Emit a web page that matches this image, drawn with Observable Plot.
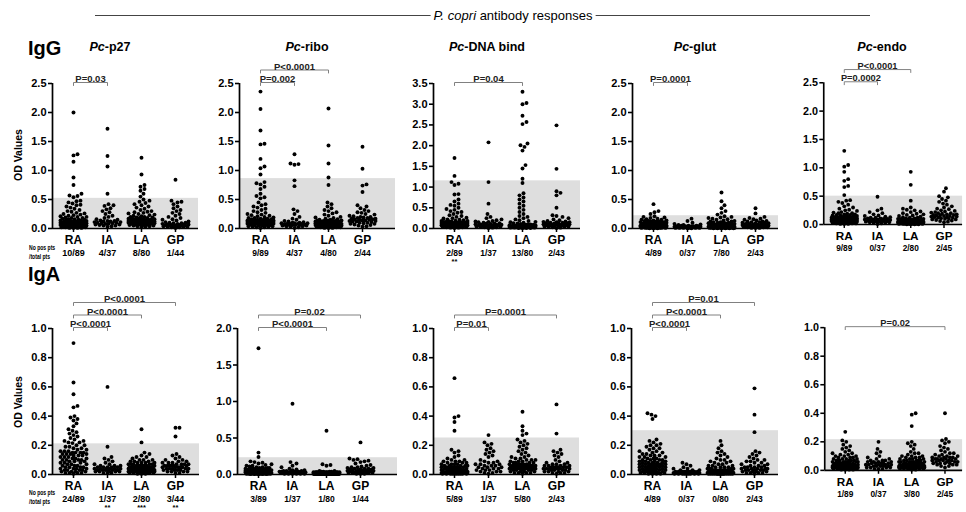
<!DOCTYPE html>
<html><head><meta charset="utf-8">
<script src="https://cdn.jsdelivr.net/npm/d3@7"></script>
<script src="https://cdn.jsdelivr.net/npm/@observablehq/plot@0.6"></script>
<style>
body{margin:0;background:#fff;overflow:hidden;}
#root{position:relative;width:966px;height:512px;overflow:hidden;font-family:"Liberation Sans",Arial,sans-serif;color:#000;}
.t{position:absolute;white-space:nowrap;line-height:1;}
.p{position:absolute;}
</style></head><body><div id="root"></div>
<script>
// ---------- categories & labels ----------
const groups = ["RA","IA","LA","GP"];
const antigens = ["p27","ribo","DNA bind","glut","endo"];
const isotypes = ["IgG","IgA"];
const countsG = [["10/89","4/37","8/80","1/44"],["9/89","4/37","4/80","2/44"],["2/89","1/37","13/80","2/43"],["4/89","0/37","7/80","2/43"],["9/89","0/37","2/80","2/45"]];
const countsA = [["24/89","1/37","2/80","3/44"],["3/89","1/37","1/80","1/44"],["5/89","1/37","5/80","2/43"],["4/89","0/37","0/80","2/43"],["1/89","0/37","3/80","2/45"]];
const starsG = [["","","",""],["","","",""],["**","","",""],["","","",""],["","","",""]];
const starsA = [["","**","***","**"],["","","",""],["","","",""],["","","",""],["","","",""]];
const cutG = [0.52, 0.86, 1.15, 0.22, 0.50];
const cutA = [0.21, 0.23, 0.25, 0.30, 0.215];
const yMaxG = [2.5, 2.5, 3.5, 2.5, 2.5];
const yMaxA = [1.0, 2.0, 1.0, 1.0, 1.0];
const yTicksG = [[0,0.5,1,1.5,2,2.5],[0,0.5,1,1.5,2,2.5],[0,0.5,1,1.5,2,2.5,3,3.5],[0,0.5,1,1.5,2,2.5],[0,0.5,1,1.5,2,2.5]];
const yTicksA = [[0,0.2,0.4,0.6,0.8,1],[0,0.5,1,1.5,2],[0,0.2,0.4,0.6,0.8,1],[0,0.2,0.4,0.6,0.8,1],[0,0.2,0.4,0.6,0.8,1]];
// [from, to, label, level]
const bracketsG = [
  [["RA","IA","P=0.03",0]],
  [["RA","IA","P=0.002",0],["RA","LA","P<0.0001",1]],
  [["RA","LA","P=0.04",0]],
  [["RA","IA","P=0.0001",0]],
  [["RA","IA","P=0.0002",0],["RA","LA","P<0.0001",1]]
];
const bracketsA = [
  [["RA","IA","P<0.0001",0],["RA","LA","P<0.0001",1],["RA","GP","P<0.0001",2]],
  [["RA","LA","P<0.0001",0],["RA","GP","P=0.02",1]],
  [["RA","IA","P=0.01",0],["RA","GP","P=0.0001",1]],
  [["RA","IA","P<0.0001",0],["RA","LA","P<0.0001",1],["RA","GP","P=0.01",2]],
  [["RA","GP","P=0.02",0]]
];

// ---------- IgG values ----------
const G_p27_RA=[2.0,1.28,1.26,1.15,.88,.75,.6,.57,.56,.54,.48,.47,.45,.43,.41,.4,.38,.36,.34,.32,.3,.29,.27,.26,.25,.24,.23,.22,.21,.2,.2,.19,.18,.18,.17,.16,.16,.15,.15,.14,.14,.14,.13,.13,.13,.12,.12,.12,.11,.11,.11,.1,.1,.1,.1,.09,.09,.09,.09,.08,.08,.08,.08,.07,.07,.07,.07,.06,.06,.06,.06,.05,.05,.05,.05,.04,.04,.04,.03,.03,.03,.03,.02,.02,.02,.01,.01,.01,.01];
const G_p27_IA=[1.72,1.25,1.07,.6,.42,.4,.39,.35,.33,.3,.28,.25,.22,.2,.18,.16,.15,.14,.13,.13,.12,.12,.11,.11,.1,.1,.09,.09,.08,.08,.07,.07,.06,.05,.05,.04,.03];
const G_p27_LA=[1.22,.93,.75,.72,.68,.65,.6,.55,.5,.48,.46,.44,.42,.4,.38,.36,.34,.32,.3,.29,.28,.27,.26,.25,.24,.23,.22,.21,.2,.2,.19,.19,.18,.18,.17,.17,.16,.16,.16,.15,.15,.15,.15,.14,.14,.14,.14,.13,.13,.13,.13,.12,.12,.12,.12,.11,.11,.11,.11,.1,.1,.1,.1,.09,.09,.09,.08,.08,.08,.07,.07,.07,.06,.06,.05,.05,.04,.04,.03,.02];
const G_p27_GP=[.84,.48,.46,.45,.42,.38,.35,.32,.3,.27,.25,.22,.2,.18,.16,.15,.14,.12,.11,.1,.1,.09,.09,.08,.08,.07,.07,.07,.06,.06,.06,.05,.05,.05,.05,.04,.04,.04,.03,.03,.03,.02,.02,.01];

const G_ribo_RA=[2.36,2.06,1.69,1.46,1.45,1.2,1.07,1.04,.93,.8,.78,.76,.72,.68,.6,.56,.54,.52,.45,.42,.4,.38,.36,.34,.32,.3,.28,.27,.25,.24,.23,.22,.21,.2,.19,.18,.18,.17,.17,.16,.16,.15,.15,.15,.14,.14,.14,.14,.13,.13,.13,.13,.12,.12,.12,.12,.12,.11,.11,.11,.11,.1,.1,.1,.1,.1,.09,.09,.09,.09,.08,.08,.08,.08,.07,.07,.07,.06,.06,.06,.05,.05,.04,.04,.03,.03,.02,.02,.01];
const G_ribo_IA=[1.28,1.12,1.11,1.1,.83,.73,.33,.3,.25,.2,.17,.15,.13,.12,.11,.1,.1,.09,.09,.09,.08,.08,.08,.08,.07,.07,.07,.06,.06,.06,.05,.05,.04,.04,.03,.02,.01];
const G_ribo_LA=[2.07,1.43,1.12,.88,.75,.45,.42,.38,.35,.32,.3,.28,.26,.24,.22,.2,.19,.18,.17,.16,.15,.15,.14,.14,.14,.13,.13,.13,.12,.12,.12,.12,.11,.11,.11,.11,.1,.1,.1,.1,.1,.09,.09,.09,.09,.09,.08,.08,.08,.08,.08,.08,.07,.07,.07,.07,.07,.06,.06,.06,.06,.06,.05,.05,.05,.05,.04,.04,.04,.04,.03,.03,.03,.03,.02,.02,.02,.01,.01,.01];
const G_ribo_GP=[1.41,1.03,.76,.74,.63,.4,.38,.35,.32,.3,.28,.27,.25,.24,.22,.21,.2,.2,.19,.18,.18,.17,.17,.16,.16,.15,.15,.14,.14,.13,.13,.12,.12,.11,.1,.1,.09,.08,.08,.07,.06,.05,.04,.03];

const G_dna_RA=[1.7,1.27,1.12,1.08,1.05,.83,.82,.7,.65,.6,.57,.55,.5,.47,.45,.42,.4,.38,.35,.32,.3,.28,.26,.25,.24,.22,.21,.2,.19,.18,.18,.17,.17,.16,.16,.15,.15,.15,.14,.14,.14,.14,.13,.13,.13,.13,.12,.12,.12,.12,.12,.11,.11,.11,.11,.11,.1,.1,.1,.1,.1,.1,.09,.09,.09,.09,.09,.08,.08,.08,.08,.08,.07,.07,.07,.07,.06,.06,.06,.05,.05,.05,.04,.04,.03,.03,.02,.02,.01];
const G_dna_IA=[2.08,1.12,.6,.35,.28,.25,.22,.2,.18,.17,.16,.15,.14,.13,.12,.12,.11,.1,.1,.09,.09,.08,.08,.08,.07,.07,.06,.06,.06,.05,.05,.04,.04,.03,.03,.02,.01];
const G_dna_LA=[3.3,3.03,3.0,2.72,2.57,2.52,2.05,2.01,1.97,1.88,1.53,1.45,1.2,1.1,.85,.8,.75,.7,.65,.6,.55,.5,.45,.4,.35,.3,.28,.25,.22,.2,.18,.16,.15,.14,.13,.12,.11,.1,.1,.09,.09,.08,.08,.08,.07,.07,.07,.07,.06,.06,.06,.06,.06,.05,.05,.05,.05,.05,.05,.04,.04,.04,.04,.04,.04,.03,.03,.03,.03,.03,.03,.02,.02,.02,.02,.02,.01,.01,.01,.01];
const G_dna_GP=[2.49,1.44,.9,.86,.8,.5,.32,.3,.28,.25,.22,.2,.18,.17,.16,.15,.15,.14,.14,.13,.13,.12,.12,.11,.11,.1,.1,.1,.09,.09,.08,.08,.07,.07,.06,.06,.05,.05,.04,.04,.03,.02,.01];

const G_glut_RA=[.42,.3,.28,.25,.21,.2,.19,.18,.17,.16,.15,.15,.14,.14,.13,.13,.12,.12,.12,.11,.11,.11,.1,.1,.1,.1,.09,.09,.09,.09,.08,.08,.08,.08,.08,.07,.07,.07,.07,.07,.06,.06,.06,.06,.06,.06,.05,.05,.05,.05,.05,.05,.05,.04,.04,.04,.04,.04,.04,.04,.04,.03,.03,.03,.03,.03,.03,.03,.03,.03,.02,.02,.02,.02,.02,.02,.02,.02,.01,.01,.01,.01,.01,.01,.01,.01,.005,.005,.005];
const G_glut_IA=[.17,.13,.1,.08,.07,.06,.06,.05,.05,.05,.04,.04,.04,.04,.04,.03,.03,.03,.03,.03,.03,.03,.02,.02,.02,.02,.02,.02,.02,.01,.01,.01,.01,.01,.01,.005,.005];
const G_glut_LA=[.62,.47,.4,.35,.3,.27,.24,.21,.2,.19,.18,.17,.16,.15,.14,.13,.12,.12,.11,.11,.1,.1,.09,.09,.09,.08,.08,.08,.07,.07,.07,.07,.06,.06,.06,.06,.06,.05,.05,.05,.05,.05,.05,.04,.04,.04,.04,.04,.04,.04,.03,.03,.03,.03,.03,.03,.03,.03,.02,.02,.02,.02,.02,.02,.02,.02,.01,.01,.01,.01,.01,.01,.01,.01,.005,.005,.005,.005,.005,.005];
const G_glut_GP=[.35,.26,.2,.18,.17,.16,.15,.14,.13,.12,.12,.11,.11,.1,.1,.09,.09,.08,.08,.08,.07,.07,.07,.06,.06,.06,.05,.05,.05,.05,.04,.04,.04,.04,.03,.03,.03,.02,.02,.02,.01,.01,.01];

const G_endo_RA=[1.3,1.05,1.02,.93,.8,.77,.68,.66,.52,.43,.42,.4,.38,.35,.32,.3,.28,.26,.25,.24,.22,.21,.2,.2,.19,.18,.18,.17,.17,.16,.16,.15,.15,.15,.14,.14,.14,.13,.13,.13,.12,.12,.12,.12,.11,.11,.11,.11,.1,.1,.1,.1,.1,.09,.09,.09,.09,.09,.08,.08,.08,.08,.08,.07,.07,.07,.07,.07,.06,.06,.06,.06,.05,.05,.05,.05,.04,.04,.04,.04,.03,.03,.03,.02,.02,.02,.01,.01,.01];
const G_endo_IA=[.49,.28,.25,.22,.2,.18,.16,.15,.14,.13,.12,.12,.11,.11,.1,.1,.09,.09,.09,.08,.08,.08,.07,.07,.07,.06,.06,.06,.05,.05,.05,.04,.04,.03,.03,.02,.01];
const G_endo_LA=[.93,.7,.42,.3,.28,.26,.25,.23,.22,.2,.19,.18,.17,.16,.15,.14,.13,.12,.12,.11,.11,.1,.1,.1,.09,.09,.09,.09,.08,.08,.08,.08,.07,.07,.07,.07,.07,.06,.06,.06,.06,.06,.05,.05,.05,.05,.05,.05,.04,.04,.04,.04,.04,.04,.04,.03,.03,.03,.03,.03,.03,.03,.02,.02,.02,.02,.02,.02,.02,.01,.01,.01,.01,.01,.01,.01,.005,.005,.005,.005];
const G_endo_GP=[.64,.58,.5,.48,.45,.42,.4,.37,.35,.32,.3,.28,.27,.25,.24,.23,.22,.21,.2,.2,.19,.18,.18,.17,.17,.16,.16,.15,.15,.14,.14,.13,.13,.12,.12,.11,.1,.1,.09,.09,.08,.07,.06,.05,.04];

// ---------- IgA values ----------
const A_p27_RA=[.9,.63,.55,.47,.46,.4,.39,.38,.37,.35,.33,.31,.3,.29,.28,.27,.26,.25,.24,.23,.23,.22,.22,.215,.2,.2,.19,.19,.18,.18,.17,.17,.16,.16,.16,.15,.15,.15,.15,.14,.14,.14,.14,.13,.13,.13,.12,.12,.12,.11,.11,.11,.1,.1,.1,.1,.09,.09,.09,.08,.08,.08,.07,.07,.07,.06,.06,.06,.05,.05,.05,.05,.04,.04,.04,.04,.03,.03,.03,.03,.02,.02,.02,.02,.01,.01,.01,.01,.005];
const A_p27_IA=[.6,.19,.12,.11,.1,.09,.08,.07,.07,.06,.06,.06,.05,.05,.05,.05,.05,.04,.04,.04,.04,.04,.04,.03,.03,.03,.03,.03,.03,.02,.02,.02,.02,.02,.01,.01,.01];
const A_p27_LA=[.31,.22,.15,.14,.13,.12,.12,.11,.1,.1,.1,.09,.09,.09,.08,.08,.08,.08,.07,.07,.07,.07,.07,.06,.06,.06,.06,.06,.06,.06,.05,.05,.05,.05,.05,.05,.05,.05,.05,.05,.04,.04,.04,.04,.04,.04,.04,.04,.04,.04,.04,.03,.03,.03,.03,.03,.03,.03,.03,.03,.03,.02,.02,.02,.02,.02,.02,.02,.02,.02,.01,.01,.01,.01,.01,.01,.01,.005,.005,.005];
const A_p27_GP=[.32,.32,.26,.14,.13,.12,.11,.1,.1,.09,.09,.08,.08,.08,.07,.07,.07,.07,.06,.06,.06,.06,.06,.06,.05,.05,.05,.05,.05,.04,.04,.04,.04,.04,.03,.03,.03,.03,.02,.02,.02,.02,.01,.01];

const A_ribo_RA=[1.73,.3,.24,.18,.17,.16,.15,.14,.13,.12,.12,.11,.1,.1,.09,.09,.09,.08,.08,.08,.08,.07,.07,.07,.07,.07,.06,.06,.06,.06,.06,.06,.05,.05,.05,.05,.05,.05,.05,.05,.04,.04,.04,.04,.04,.04,.04,.04,.04,.04,.04,.03,.03,.03,.03,.03,.03,.03,.03,.03,.03,.03,.03,.02,.02,.02,.02,.02,.02,.02,.02,.02,.02,.02,.01,.01,.01,.01,.01,.01,.01,.01,.01,.01,.005,.005,.005,.005,.005];
const A_ribo_IA=[.97,.17,.15,.12,.1,.08,.07,.06,.06,.05,.05,.05,.04,.04,.04,.04,.04,.03,.03,.03,.03,.03,.03,.03,.02,.02,.02,.02,.02,.02,.02,.01,.01,.01,.01,.01,.01];
const A_ribo_LA=[.6,.14,.13,.12,.05,.05,.04,.04,.04,.04,.03,.03,.03,.03,.03,.03,.03,.03,.03,.03,.02,.02,.02,.02,.02,.02,.02,.02,.02,.02,.02,.02,.02,.02,.02,.02,.02,.02,.02,.02,.01,.01,.01,.01,.01,.01,.01,.01,.01,.01,.01,.01,.01,.01,.01,.01,.01,.01,.01,.01,.01,.01,.01,.01,.01,.005,.005,.005,.005,.005,.005,.005,.005,.005,.005,.005,.005,.005,.005,.005];
const A_ribo_GP=[.44,.22,.21,.2,.19,.18,.17,.15,.13,.12,.11,.1,.1,.09,.09,.08,.08,.08,.07,.07,.07,.06,.06,.06,.06,.05,.05,.05,.05,.04,.04,.04,.04,.03,.03,.03,.03,.02,.02,.02,.02,.01,.01,.01];

const A_dna_RA=[.66,.4,.39,.36,.3,.17,.16,.15,.13,.12,.11,.1,.1,.09,.09,.09,.08,.08,.08,.07,.07,.07,.07,.06,.06,.06,.06,.06,.05,.05,.05,.05,.05,.05,.05,.04,.04,.04,.04,.04,.04,.04,.04,.04,.03,.03,.03,.03,.03,.03,.03,.03,.03,.03,.02,.02,.02,.02,.02,.02,.02,.02,.02,.02,.02,.02,.01,.01,.01,.01,.01,.01,.01,.01,.01,.01,.01,.01,.005,.005,.005,.005,.005,.005,.005,.005,.005,.005];
const A_dna_IA=[.27,.22,.21,.2,.18,.17,.16,.15,.14,.13,.12,.1,.09,.09,.08,.08,.07,.07,.07,.06,.06,.06,.05,.05,.05,.04,.04,.04,.03,.03,.03,.02,.02,.02,.01,.01,.005];
const A_dna_LA=[.43,.33,.3,.28,.27,.24,.23,.22,.21,.2,.19,.18,.17,.16,.15,.14,.13,.12,.12,.11,.11,.1,.1,.1,.09,.09,.09,.08,.08,.08,.08,.07,.07,.07,.07,.07,.07,.06,.06,.06,.06,.06,.06,.06,.06,.06,.06,.06,.05,.05,.05,.05,.05,.05,.05,.05,.05,.05,.05,.04,.04,.04,.04,.04,.04,.04,.03,.03,.03,.03,.03,.02,.02,.02,.02,.01,.01,.01,.01,.005];
const A_dna_GP=[.48,.28,.17,.16,.15,.14,.13,.12,.1,.09,.08,.08,.07,.07,.07,.06,.06,.06,.06,.05,.05,.05,.05,.05,.05,.04,.04,.04,.04,.04,.04,.03,.03,.03,.03,.02,.02,.02,.02,.01,.01,.01,.005];

const A_glut_RA=[.42,.41,.4,.38,.24,.23,.22,.21,.2,.2,.19,.18,.18,.17,.16,.16,.15,.15,.14,.14,.13,.13,.13,.12,.12,.12,.11,.11,.11,.1,.1,.1,.1,.09,.09,.09,.09,.08,.08,.08,.08,.08,.07,.07,.07,.07,.07,.07,.06,.06,.06,.06,.06,.06,.06,.05,.05,.05,.05,.05,.05,.04,.04,.04,.04,.04,.04,.03,.03,.03,.03,.03,.03,.02,.02,.02,.02,.02,.02,.01,.01,.01,.01,.01,.01,.005,.005,.005,.005];
const A_glut_IA=[.08,.07,.06,.05,.04,.04,.03,.03,.03,.02,.02,.02,.02,.02,.02,.02,.02,.02,.01,.01,.01,.01,.01,.01,.01,.01,.01,.01,.005,.005,.005,.005,.005,.005,.005,.005,.005];
const A_glut_LA=[.23,.2,.18,.16,.15,.14,.13,.12,.11,.1,.1,.09,.09,.08,.08,.07,.07,.06,.06,.06,.05,.05,.05,.05,.04,.04,.04,.04,.04,.03,.03,.03,.03,.03,.03,.03,.02,.02,.02,.02,.02,.02,.02,.02,.02,.02,.02,.01,.01,.01,.01,.01,.01,.01,.01,.01,.01,.01,.01,.01,.01,.01,.01,.005,.005,.005,.005,.005,.005,.005,.005,.005,.005,.005,.005,.005,.005,.005,.005,.005];
const A_glut_GP=[.59,.41,.29,.16,.15,.14,.13,.12,.11,.1,.1,.09,.09,.08,.08,.07,.07,.06,.06,.06,.05,.05,.05,.05,.04,.04,.04,.04,.04,.03,.03,.03,.03,.03,.02,.02,.02,.02,.01,.01,.01,.01,.005];

const A_endo_RA=[.27,.21,.2,.18,.17,.16,.15,.14,.13,.12,.12,.11,.11,.1,.1,.1,.09,.09,.09,.08,.08,.08,.08,.07,.07,.07,.07,.07,.06,.06,.06,.06,.06,.06,.05,.05,.05,.05,.05,.05,.05,.05,.05,.04,.04,.04,.04,.04,.04,.04,.04,.04,.04,.04,.03,.03,.03,.03,.03,.03,.03,.03,.03,.03,.03,.03,.02,.02,.02,.02,.02,.02,.02,.02,.02,.02,.02,.01,.01,.01,.01,.01,.01,.01,.01,.005,.005,.005,.005];
const A_endo_IA=[.2,.15,.13,.12,.1,.09,.08,.08,.07,.07,.07,.06,.06,.06,.06,.05,.05,.05,.05,.05,.04,.04,.04,.04,.04,.03,.03,.03,.03,.03,.02,.02,.02,.02,.01,.01,.01];
const A_endo_LA=[.4,.39,.31,.2,.19,.18,.17,.15,.13,.12,.12,.11,.1,.1,.1,.09,.09,.09,.08,.08,.08,.08,.07,.07,.07,.07,.07,.06,.06,.06,.06,.06,.06,.05,.05,.05,.05,.05,.05,.05,.05,.04,.04,.04,.04,.04,.04,.04,.04,.04,.04,.03,.03,.03,.03,.03,.03,.03,.03,.03,.03,.03,.02,.02,.02,.02,.02,.02,.02,.02,.02,.01,.01,.01,.01,.01,.01,.01,.005,.005];
const A_endo_GP=[.4,.22,.21,.2,.19,.17,.16,.15,.14,.13,.12,.12,.11,.11,.1,.1,.1,.09,.09,.09,.09,.08,.08,.08,.08,.08,.07,.07,.07,.07,.07,.06,.06,.06,.06,.05,.05,.05,.05,.04,.04,.04,.03,.03,.02];

// ---------- assembly ----------
const dataG = [[G_p27_RA,G_p27_IA,G_p27_LA,G_p27_GP],[G_ribo_RA,G_ribo_IA,G_ribo_LA,G_ribo_GP],[G_dna_RA,G_dna_IA,G_dna_LA,G_dna_GP],[G_glut_RA,G_glut_IA,G_glut_LA,G_glut_GP],[G_endo_RA,G_endo_IA,G_endo_LA,G_endo_GP]];
const dataA = [[A_p27_RA,A_p27_IA,A_p27_LA,A_p27_GP],[A_ribo_RA,A_ribo_IA,A_ribo_LA,A_ribo_GP],[A_dna_RA,A_dna_IA,A_dna_LA,A_dna_GP],[A_glut_RA,A_glut_IA,A_glut_LA,A_glut_GP],[A_endo_RA,A_endo_IA,A_endo_LA,A_endo_GP]];

const FONT = '"Liberation Sans", Arial, sans-serif';
const root = document.getElementById("root");
const DOT_R = 1.95, STEP = 34, FIRST = 21;

const rows = [
  {data:dataG, cut:cutG, ymax:yMaxG, ticks:yTicksG, br:bracketsG, counts:countsG, stars:starsG,
   top:50, mTop:33, plotH:145, mBottom:40, axisX:[52,239,433,632,824], widths:[146,156,147,146,142]},
  {data:dataA, cut:cutA, ymax:yMaxA, ticks:yTicksA, br:bracketsA, counts:countsA, stars:starsA,
   top:290, mTop:38, plotH:146, mBottom:38, axisX:[52,237,433,631,825], widths:[147,160,146,147,141]}
];

function swarm(arr, ppu) {
  const D = 2 * DOT_R + 0.1, maxOff = 13;
  const order = arr.map((v, i) => i).sort((a, b) => arr[a] - arr[b] || a - b);
  const placed = [], off = new Array(arr.length).fill(0);
  const cands = [0];
  for (let k = 1; k <= maxOff; k++) cands.push(k, -k);
  for (const i of order) {
    const y = arr[i] * ppu;
    const near = placed.filter(q => Math.abs(q.y - y) < D);
    let chosen = null, best = -1, bestX = 0;
    for (const c of cands) {
      let md = Infinity;
      for (const q of near) { const d = Math.hypot(q.x - c, q.y - y); if (d < md) md = d; }
      if (md >= D) { chosen = c; break; }
      if (md > best) { best = md; bestX = c; }
    }
    if (chosen === null) chosen = bestX;
    off[i] = chosen; placed.push({x: chosen, y});
  }
  return off;
}

function drawPanel(row, p) {
  const vals = row.data[p], ymax = row.ymax[p], W = row.widths[p], H = row.plotH;
  const ppu = H / ymax;
  const x0 = -FIRST / STEP, x1 = (W - FIRST) / STEP;
  const pts = [];
  vals.forEach((arr, gi) => {
    const off = swarm(arr, ppu);
    arr.forEach((v, i) => pts.push({x: gi + off[i] / STEP, y: v}));
  });
  const br = row.br[p].map(([a, b, label, tier]) => {
    const yb = ymax + (1 + 12.5 * tier) / ppu;
    return {a: groups.indexOf(a), b: groups.indexOf(b), label, yb, yt: yb - 3 / ppu};
  });
  const brLines = br.flatMap((d, k) => [
    {k, x: d.a, y: d.yt}, {k, x: d.a, y: d.yb}, {k, x: d.b, y: d.yb}, {k, x: d.b, y: d.yt}]);
  const gIdx = groups.map((g, i) => i);
  const mLeft = 34, mRight = 4, mBottom = row.mBottom;
  const big = p === 0;
  const chart = Plot.plot({
    width: mLeft + W + mRight, height: row.mTop + H + mBottom,
    marginLeft: mLeft, marginRight: mRight, marginTop: row.mTop, marginBottom: mBottom,
    x: {type: "linear", domain: [x0, x1], axis: null},
    y: {type: "linear", domain: [0, ymax]},
    style: {fontFamily: FONT, fontSize: "11px", fontWeight: "bold", background: "none", overflow: "visible", color: "#000"},
    marks: [
      Plot.rect([{x1: x0, x2: x1, y1: 0, y2: row.cut[p]}], {x1: "x1", x2: "x2", y1: "y1", y2: "y2", fill: "#dedede"}),
      Plot.dot(pts, {x: "x", y: "y", r: DOT_R, fill: "#000", stroke: "none"}),
      Plot.ruleY([0], {x1: x0, x2: x1, stroke: "#000", strokeWidth: 1.7}),
      Plot.ruleX([x0], {y1: 0, y2: ymax, stroke: "#000", strokeWidth: 1.7}),
      Plot.ruleX(gIdx, {x: d => d, y1: 0, y2: -4 / ppu, stroke: "#000", strokeWidth: 1.5}),
      Plot.axisY(row.ticks[p], {tickFormat: d3.format(".1f"), tickSize: 4, tickPadding: 2, strokeWidth: 1.6, fontSize: 11, fontWeight: "bold", label: null}),
      Plot.text(groups, {x: (d, i) => i, y: 0, dy: 12, text: d => d, fontSize: 12, fontWeight: "bold"}),
      Plot.text(row.counts[p], {x: (d, i) => i, y: 0, dy: 24.5, text: d => d, fontSize: big ? 9 : 8.5, fontWeight: "bold"}),
      Plot.text(row.stars[p], {x: (d, i) => i, y: 0, dy: 33.5, text: d => d, fontSize: 7.5, fontWeight: "bold"}),
      Plot.line(brLines, {x: "x", y: "y", z: "k", stroke: "#808080", strokeWidth: 1}),
      Plot.text(br, {x: d => (d.a + d.b) / 2, y: "yb", text: "label", lineAnchor: "bottom", dy: -0.5, fontSize: 9.5, fontWeight: "bold", fill: "#222"})
    ]
  });
  const wrap = document.createElement("div");
  wrap.className = "p";
  wrap.style.left = (row.axisX[p] - mLeft) + "px";
  wrap.style.top = row.top + "px";
  wrap.appendChild(chart);
  root.appendChild(wrap);
}

rows.forEach(row => antigens.forEach((a, p) => drawPanel(row, p)));

// ---------- text annotations ----------
function addText(html, x, y, css, center) {
  const d = document.createElement("div");
  d.className = "t";
  d.innerHTML = html;
  d.style.left = x + "px"; d.style.top = y + "px";
  d.style.transform = center ? "translate(-50%,-50%)" : "translate(0,-50%)";
  Object.assign(d.style, css || {});
  root.appendChild(d);
  return d;
}
const rule = document.createElement("div");
Object.assign(rule.style, {position: "absolute", left: "95px", top: "14.5px", width: "775px", height: "1px", background: "#444"});
root.appendChild(rule);
addText("<i>P. copri</i> antibody responses", 513, 15, {fontSize: "13px", background: "#fff", padding: "0 3px"}, true);
addText(isotypes[0], 28, 48, {fontSize: "20px", fontWeight: "bold"});
addText(isotypes[1], 28, 274, {fontSize: "20px", fontWeight: "bold"});
[110, 307, 487, 695, 882].forEach((x, i) => addText("<i>Pc</i>-" + antigens[i], x, 47, {fontSize: "12.5px", fontWeight: "bold"}, true));
[155, 402].forEach(y => addText("OD Values", 18, y, {fontSize: "10.5px", fontWeight: "bold", transform: "translate(-50%,-50%) rotate(-90deg)"}, true));
[[248, 257], [493, 502]].forEach(([a, b]) => {
  addText("No pos pts", 29, a, {fontSize: "6.5px", fontWeight: "bold", transform: "translate(0,-50%) scaleX(0.78)", transformOrigin: "left center"});
  addText("/total pts", 29, b, {fontSize: "6.5px", fontWeight: "bold", transform: "translate(0,-50%) scaleX(0.78)", transformOrigin: "left center"});
});
</script></body></html>
